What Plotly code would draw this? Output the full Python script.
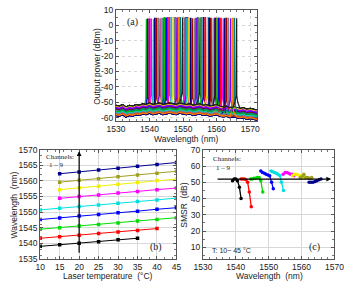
import plotly.graph_objects as go

W, H = 352, 286

# ---------------- data ----------------
channel_colors = ["#000000", "#ff0000", "#00dd00", "#0000ff", "#00e0e0",
                  "#ff00ff", "#f0f000", "#a0a020", "#000090"]

# panel (b): laser temperature vs wavelength, channels 1-9
temps = [[10, 15, 20, 25, 30, 35],
         [10, 15, 20, 25, 30, 35, 40],
         [10, 15, 20, 25, 30, 35, 40, 45],
         [10, 15, 20, 25, 30, 35, 40, 45],
         [10, 15, 20, 25, 30, 35, 40, 45],
         [15, 20, 25, 30, 35, 40, 45],
         [15, 20, 25, 30, 35, 40, 45],
         [15, 20, 25, 30, 35, 40, 45],
         [15, 20, 25, 30, 35, 40, 45]]
wavelengths = [[1539.0, 1539.5, 1540.0, 1540.5, 1541.1, 1541.6],
               [1541.6, 1542.1, 1542.6, 1543.1, 1543.6, 1544.1, 1544.7],
               [1544.5, 1545.0, 1545.5, 1546.0, 1546.5, 1547.1, 1547.6, 1548.2],
               [1547.6, 1548.1, 1548.7, 1549.2, 1549.8, 1550.3, 1550.9, 1551.4],
               [1550.7, 1551.2, 1551.8, 1552.3, 1552.8, 1553.4, 1553.9, 1554.5],
               [1554.4, 1555.0, 1555.5, 1556.1, 1556.6, 1557.2, 1557.7],
               [1557.2, 1557.8, 1558.3, 1558.9, 1559.5, 1560.1, 1560.6],
               [1559.6, 1560.2, 1560.7, 1561.3, 1561.9, 1562.5, 1563.1],
               [1562.3, 1562.9, 1563.5, 1564.1, 1564.7, 1565.3, 1565.9]]

# panel (c): SMSR at the same operating points
smsr = [[51.0, 52.0, 52.0, 51.0, 47.0, 40.0],
        [52.0, 52.0, 52.0, 51.5, 50.0, 44.0, 35.0],
        [52.0, 52.0, 52.5, 52.5, 53.0, 53.0, 51.0, 44.0],
        [57.0, 56.0, 55.5, 55.0, 54.5, 54.0, 50.0, 46.0],
        [57.0, 56.5, 56.0, 55.5, 55.0, 54.0, 50.0, 45.0],
        [55.0, 56.0, 56.0, 55.5, 55.0, 55.0, 54.0],
        [54.0, 55.0, 55.0, 54.5, 54.0, 53.0, 53.0],
        [53.0, 53.5, 55.0, 53.0, 53.0, 52.5, 53.0],
        [50.0, 50.0, 50.0, 50.5, 51.0, 51.5, 52.0]]

# panel (a): spectra, one per operating point
peak_power = [4.0, 4.5, 5.0, 5.0, 4.5, 5.0, 4.5, 4.5, 4.5]
floor_wl = [1530 + i for i in range(44)]
floor_db = [-55.5, -56.0, -55.0, -56.5, -55.5, -56.0, -55.0, -55.5, -54.5, -55.0,
            -54.0, -55.0, -54.5, -54.0, -55.0, -54.5, -54.0, -54.5, -55.0, -54.0,
            -54.5, -55.0, -54.5, -55.5, -55.0, -54.5, -55.5, -55.0, -56.0, -55.5,
            -55.0, -56.0, -56.5, -56.0, -57.0, -56.5, -57.0, -57.5, -57.0, -58.0,
            -57.5, -58.0, -58.5, -58.0]
floor_offset = [0.0, 1.5, -2.0, 2.5, -1.0, 3.0, -3.0, 1.0, -1.5, 2.0, -2.5, 0.5, 3.5]
spec_colors = ["#00c000", "#0000ff", "#ff0000", "#ff00ff", "#00c8c8", "#e0e000",
               "#000080", "#a00000", "#808080", "#8000ff", "#ff8000", "#008080", "#202020"]

# ---------------- figure ----------------
fig = go.Figure()

# (a) spectra
k = 0
for ch in range(9):
    for lam in wavelengths[ch]:
        off = floor_offset[k % len(floor_offset)]
        col = spec_colors[k % len(spec_colors)]
        xs, ys = [], []
        for fx, fy in zip(floor_wl, floor_db):
            if fx < lam - 0.4:
                xs.append(fx); ys.append(fy + off)
        base = floor_db[int(lam - 1530)] + off
        xs += [lam - 0.4, lam - 0.12, lam - 0.08, lam + 0.08, lam + 0.12, lam + 0.4]
        ys += [base + 3, base + 7, peak_power[ch], peak_power[ch], base + 7, base + 3]
        for fx, fy in zip(floor_wl, floor_db):
            if fx > lam + 0.4:
                xs.append(fx); ys.append(fy + off)
        fig.add_trace(go.Scatter(x=xs, y=ys, mode="lines", xaxis="x", yaxis="y",
                                 line=dict(color=col, width=1.2), showlegend=False,
                                 hoverinfo="skip"))
        k += 1

# (b) and (c)
for ch in range(9):
    fig.add_trace(go.Scatter(x=temps[ch], y=wavelengths[ch], mode="lines+markers",
                             xaxis="x2", yaxis="y2",
                             line=dict(color=channel_colors[ch], width=1),
                             marker=dict(symbol="square", size=3.5, color=channel_colors[ch]),
                             showlegend=False))
    fig.add_trace(go.Scatter(x=wavelengths[ch], y=smsr[ch], mode="lines+markers",
                             xaxis="x3", yaxis="y3",
                             line=dict(color=channel_colors[ch], width=1.3),
                             marker=dict(symbol="circle", size=3.5, color=channel_colors[ch]),
                             showlegend=False))

tickfont = dict(family="Liberation Sans, Arial", size=8.5, color="#222")
axcommon = dict(showline=True, linecolor="#555", linewidth=1, mirror="allticks",
                ticks="inside", ticklen=3, tickcolor="#555", tickfont=tickfont,
                showgrid=True, gridcolor="#d8d8d8", gridwidth=1, zeroline=False,
                minor=dict(ticks="inside", ticklen=2, tickcolor="#777", showgrid=False))

def px(xp):
    return xp / W

def py(yp):
    return 1 - yp / H

fig.update_layout(
    width=W, height=H, margin=dict(l=0, r=0, t=0, b=0),
    paper_bgcolor="white", plot_bgcolor="white",
    xaxis=dict(axcommon, domain=[px(113), px(262)], range=[1530, 1572],
               tickvals=[1530, 1540, 1550, 1560, 1570], anchor="y", griddash="dot"),
    yaxis=dict(axcommon, domain=[py(120), py(5)], range=[-62, 10],
               tickvals=[-60, -50, -40, -30, -20, -10, 0, 10],
               ticktext=["-60", "-50", "-40", "-30", "-20", "-10", "0", "10"],
               anchor="x", griddash="dot"),
    xaxis2=dict(axcommon, domain=[px(33), px(177)], range=[10, 45],
                tickvals=[10, 15, 20, 25, 30, 35, 40, 45], anchor="y2"),
    yaxis2=dict(axcommon, domain=[py(263), py(150)], range=[1535, 1570],
                tickvals=[1535, 1540, 1545, 1550, 1555, 1560, 1565, 1570], anchor="x2"),
    xaxis3=dict(axcommon, domain=[px(205), px(344)], range=[1530, 1570],
                tickvals=[1530, 1540, 1550, 1560, 1570], anchor="y3"),
    yaxis3=dict(axcommon, domain=[py(263), py(150)], range=[3, 70],
                tickvals=[10, 20, 30, 40, 50, 60, 70], anchor="x3"),
)

lab = dict(family="Liberation Sans, Arial", size=8.5, color="#222")
serif = dict(family="Liberation Serif, Times New Roman", size=10, color="#222")
serif_s = dict(family="Liberation Serif, Times New Roman", size=7, color="#222")

ann = [
    # axis titles
    dict(x=px(188), y=py(139), text="Wavelength (nm)", font=lab),
    dict(x=px(93), y=py(63), text="Output power (dBm)", font=lab, textangle=-90),
    dict(x=px(105), y=py(281), text="Laser temperature  (°C)", font=lab),
    dict(x=px(5), y=py(207), text="Wavelength  (nm)", font=lab, textangle=-90),
    dict(x=px(275), y=py(281), text="Wavelength  (nm)", font=lab),
    dict(x=px(185), y=py(207), text="SMSR  (dB)", font=lab, textangle=-90),
    # panel tags
    dict(x=px(131), y=py(18), text="(a)", font=serif),
    dict(x=px(155), y=py(251), text="(b)", font=serif),
    dict(x=px(323), y=py(251), text="(c)", font=serif),
    # channel labels
    dict(x=px(37), y=py(157), text="Channels:", font=serif_s, xanchor="left"),
    dict(x=px(40), y=py(166), text="1 – 9", font=serif_s, xanchor="left"),
    dict(x=px(214), y=py(160), text="Channels:", font=serif_s, xanchor="left"),
    dict(x=px(217), y=py(169), text="1 – 9", font=serif_s, xanchor="left"),
    dict(x=px(212), y=py(254), text="T: 10~ 45 °C",
         font=dict(family="Liberation Sans, Arial", size=7, color="#222"), xanchor="left"),
]
for a in ann:
    a.setdefault("xref", "paper")
    a.setdefault("yref", "paper")
    a.setdefault("xanchor", "center")
    a.setdefault("yanchor", "middle")
    a.setdefault("showarrow", False)
    fig.add_annotation(**a)

# arrows
fig.add_annotation(x=20, y=1569.5, ax=20, ay=1536.5, xref="x2", yref="y2",
                   axref="x2", ayref="y2", showarrow=True, arrowhead=2,
                   arrowsize=0.8, arrowwidth=1.2, arrowcolor="#000", text="")
fig.add_annotation(x=1569, y=52, ax=1534, ay=52, xref="x3", yref="y3",
                   axref="x3", ayref="y3", showarrow=True, arrowhead=2,
                   arrowsize=0.8, arrowwidth=1.2, arrowcolor="#000", text="")

fig.write_html("out.html")
